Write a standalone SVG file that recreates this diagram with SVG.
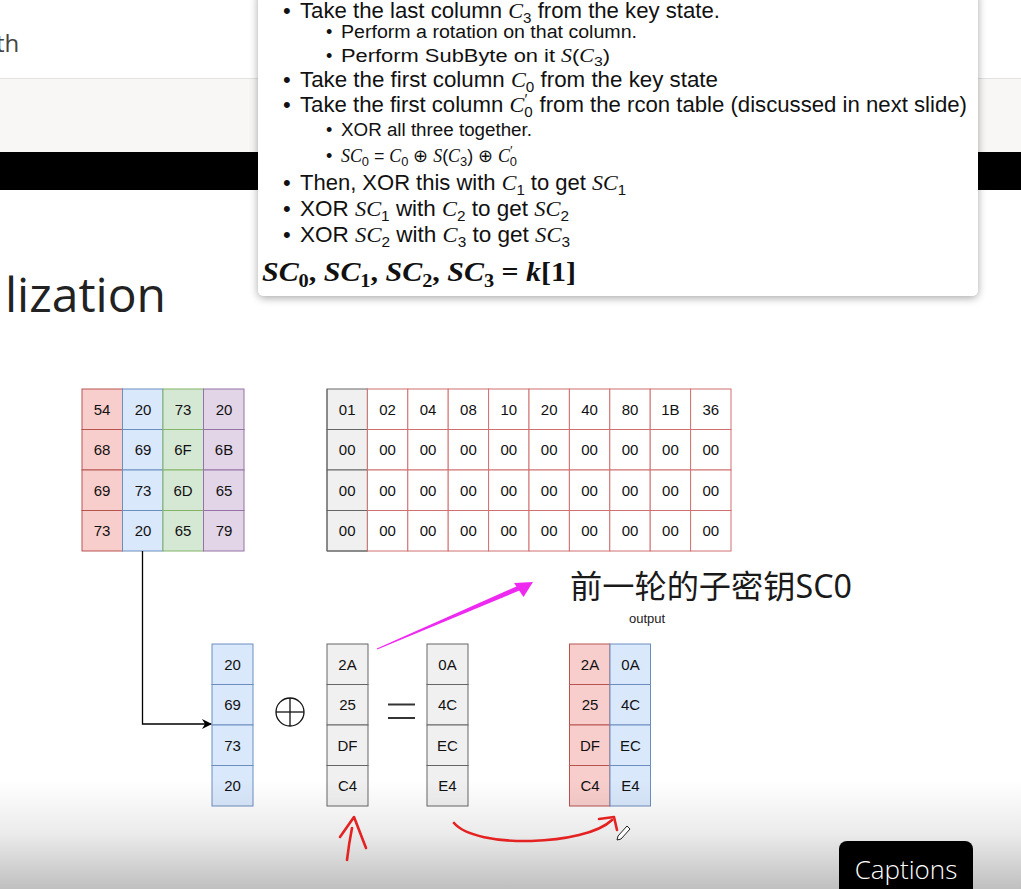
<svg xmlns="http://www.w3.org/2000/svg" width="1021" height="889" viewBox="0 0 1021 889">
<defs>
<style>
.cell{font-family:"Liberation Sans",Arial,sans-serif;font-size:15px;fill:#111;text-anchor:middle}
.r{fill:#f8cecc;stroke:#b85450;stroke-width:1}
.b{fill:#dae8fc;stroke:#6c8ebf;stroke-width:1}
.g{fill:#d5e8d4;stroke:#82b366;stroke-width:1}
.p{fill:#e1d5e7;stroke:#9673a6;stroke-width:1}
.gr{fill:#f0f0f0;stroke:#666;stroke-width:1}
.w{fill:#fff;stroke:#d07070;stroke-width:1}
.t{font-family:"Liberation Sans",Arial,sans-serif;fill:#111}
.m{font-family:"Liberation Serif","Times New Roman",serif;font-style:italic}
.red{fill:none;stroke:#e42222;stroke-width:2.6;stroke-linecap:round;stroke-linejoin:round}
</style>
<filter id="sh" x="-5%" y="-10%" width="110%" height="125%">
<feGaussianBlur in="SourceAlpha" stdDeviation="4"/>
<feOffset dx="0" dy="2"/>
<feComponentTransfer><feFuncA type="linear" slope="0.35"/></feComponentTransfer>
<feMerge><feMergeNode/><feMergeNode in="SourceGraphic"/></feMerge>
</filter>
<marker id="arr" markerWidth="10" markerHeight="10" refX="9" refY="5" orient="auto" markerUnits="userSpaceOnUse">
<path d="M0,0 L10,5 L0,10 L3,5 Z" fill="#000"/>
</marker>
<linearGradient id="fade" x1="0" y1="0" x2="0" y2="1">
<stop offset="0" stop-color="#000" stop-opacity="0"/>
<stop offset="0.5" stop-color="#000" stop-opacity="0.08"/>
<stop offset="1" stop-color="#000" stop-opacity="0.25"/>
</linearGradient>
</defs>

<!-- page background -->
<rect x="0" y="0" width="1021" height="889" fill="#fff"/>
<rect x="0" y="79" width="1021" height="73" fill="#f8f7f6"/>
<line x1="0" y1="78.5" x2="1021" y2="78.5" stroke="#e2e2e2"/>
<rect x="0" y="152" width="1021" height="38" fill="#000"/>
<text x="-4" y="52" style="font-family:'Open Sans','Noto Sans',sans-serif;font-size:24px;fill:#444">th</text>
<text x="5" y="312" style="font-family:'Open Sans','Noto Sans',sans-serif;font-size:48px;fill:#222">lization</text>

<!-- popup text box -->
<g id="popup">
<rect x="258" y="-10" width="720" height="306" rx="6" fill="#fff" filter="url(#sh)"/>
<g class="t" font-size="22">
<text x="283" y="18">•</text>
<text x="300" y="18" textLength="420" lengthAdjust="spacingAndGlyphs">Take the last column <tspan class="m">C</tspan><tspan font-size="15" dy="5">3</tspan><tspan dy="-5"> from the key state.</tspan></text>
<text x="283" y="87">•</text>
<text x="300" y="87" textLength="418" lengthAdjust="spacingAndGlyphs">Take the first column <tspan class="m">C</tspan><tspan font-size="15" dy="5">0</tspan><tspan dy="-5"> from the key state</tspan></text>
<text x="283" y="112">•</text>
<text x="300" y="112" textLength="667" lengthAdjust="spacingAndGlyphs">Take the first column <tspan class="m">C</tspan><tspan font-size="15" dy="5">0</tspan><tspan font-size="15" dx="-8" dy="-13">′</tspan><tspan dx="6" dy="8"> from the rcon table (discussed in next slide)</tspan></text>
<text x="283" y="190">•</text>
<text x="300" y="190" textLength="326" lengthAdjust="spacingAndGlyphs">Then, XOR this with <tspan class="m">C</tspan><tspan font-size="15" dy="5">1</tspan><tspan dy="-5"> to get </tspan><tspan class="m">SC</tspan><tspan font-size="15" dy="5">1</tspan></text>
<text x="283" y="216">•</text>
<text x="300" y="216" textLength="269" lengthAdjust="spacingAndGlyphs">XOR <tspan class="m">SC</tspan><tspan font-size="15" dy="5">1</tspan><tspan dy="-5"> with </tspan><tspan class="m">C</tspan><tspan font-size="15" dy="5">2</tspan><tspan dy="-5"> to get </tspan><tspan class="m">SC</tspan><tspan font-size="15" dy="5">2</tspan></text>
<text x="283" y="242">•</text>
<text x="300" y="242" textLength="270" lengthAdjust="spacingAndGlyphs">XOR <tspan class="m">SC</tspan><tspan font-size="15" dy="5">2</tspan><tspan dy="-5"> with </tspan><tspan class="m">C</tspan><tspan font-size="15" dy="5">3</tspan><tspan dy="-5"> to get </tspan><tspan class="m">SC</tspan><tspan font-size="15" dy="5">3</tspan></text>
</g>
<g class="t" font-size="18">
<text x="326" y="38">•</text>
<text x="341" y="38" textLength="296" lengthAdjust="spacingAndGlyphs">Perform a rotation on that column.</text>
<text x="326" y="62">•</text>
<text x="341" y="62" textLength="269" lengthAdjust="spacingAndGlyphs">Perform SubByte on it <tspan class="m">S</tspan>(<tspan class="m">C</tspan><tspan font-size="13" dy="4">3</tspan><tspan dy="-4">)</tspan></text>
<text x="326" y="136">•</text>
<text x="341" y="136" textLength="191" lengthAdjust="spacingAndGlyphs">XOR all three together.</text>
<text x="326" y="162">•</text>
<text x="341" y="162" textLength="176" lengthAdjust="spacingAndGlyphs"><tspan class="m">SC</tspan><tspan font-size="13" dy="4">0</tspan><tspan dy="-4"> = </tspan><tspan class="m">C</tspan><tspan font-size="13" dy="4">0</tspan><tspan dy="-4"> ⊕ </tspan><tspan class="m">S</tspan>(<tspan class="m">C</tspan><tspan font-size="13" dy="4">3</tspan><tspan dy="-4">) ⊕ </tspan><tspan class="m">C</tspan><tspan font-size="13" dy="4">0</tspan><tspan font-size="13" dx="-7" dy="-11">′</tspan></text>
</g>
<text x="262" y="281" textLength="314" lengthAdjust="spacingAndGlyphs" style="font-family:'Liberation Serif','Times New Roman',serif;font-size:28px;font-weight:bold;fill:#111"><tspan font-style="italic">SC</tspan><tspan font-size="19" dy="6">0</tspan><tspan dy="-6">, </tspan><tspan font-style="italic">SC</tspan><tspan font-size="19" dy="6">1</tspan><tspan dy="-6">, </tspan><tspan font-style="italic">SC</tspan><tspan font-size="19" dy="6">2</tspan><tspan dy="-6">, </tspan><tspan font-style="italic">SC</tspan><tspan font-size="19" dy="6">3</tspan><tspan dy="-6"> = </tspan><tspan font-style="italic">k</tspan>[1]</text>
</g>

<!-- key state grid -->
<g id="key-state">
<rect class="r" x="82" y="389" width="40.5" height="40.5"/><rect class="r" x="82" y="429.5" width="40.5" height="40.5"/><rect class="r" x="82" y="470" width="40.5" height="40.5"/><rect class="r" x="82" y="510.5" width="40.5" height="40.5"/>
<rect class="b" x="122.5" y="389" width="40.5" height="40.5"/><rect class="b" x="122.5" y="429.5" width="40.5" height="40.5"/><rect class="b" x="122.5" y="470" width="40.5" height="40.5"/><rect class="b" x="122.5" y="510.5" width="40.5" height="40.5"/>
<rect class="g" x="163" y="389" width="40.5" height="40.5"/><rect class="g" x="163" y="429.5" width="40.5" height="40.5"/><rect class="g" x="163" y="470" width="40.5" height="40.5"/><rect class="g" x="163" y="510.5" width="40.5" height="40.5"/>
<rect class="p" x="203.5" y="389" width="40.5" height="40.5"/><rect class="p" x="203.5" y="429.5" width="40.5" height="40.5"/><rect class="p" x="203.5" y="470" width="40.5" height="40.5"/><rect class="p" x="203.5" y="510.5" width="40.5" height="40.5"/>
<text class="cell" x="102" y="415">54</text><text class="cell" x="143" y="415">20</text><text class="cell" x="183" y="415">73</text><text class="cell" x="224" y="415">20</text>
<text class="cell" x="102" y="455">68</text><text class="cell" x="143" y="455">69</text><text class="cell" x="183" y="455">6F</text><text class="cell" x="224" y="455">6B</text>
<text class="cell" x="102" y="496">69</text><text class="cell" x="143" y="496">73</text><text class="cell" x="183" y="496">6D</text><text class="cell" x="224" y="496">65</text>
<text class="cell" x="102" y="536">73</text><text class="cell" x="143" y="536">20</text><text class="cell" x="183" y="536">65</text><text class="cell" x="224" y="536">79</text>
</g>

<!-- rcon table -->
<g id="rcon">
<rect class="gr" x="327" y="389" width="40.4" height="40.5"/><rect class="gr" x="327" y="429.5" width="40.4" height="40.5"/><rect class="gr" x="327" y="470" width="40.4" height="40.5"/><rect class="gr" x="327" y="510.5" width="40.4" height="40.5"/>
<g>
<rect class="w" x="367.4" y="389" width="40.4" height="40.5"/><rect class="w" x="407.8" y="389" width="40.4" height="40.5"/><rect class="w" x="448.2" y="389" width="40.4" height="40.5"/><rect class="w" x="488.6" y="389" width="40.4" height="40.5"/><rect class="w" x="529" y="389" width="40.4" height="40.5"/><rect class="w" x="569.4" y="389" width="40.4" height="40.5"/><rect class="w" x="609.8" y="389" width="40.4" height="40.5"/><rect class="w" x="650.2" y="389" width="40.4" height="40.5"/><rect class="w" x="690.6" y="389" width="40.4" height="40.5"/>
<rect class="w" x="367.4" y="429.5" width="40.4" height="40.5"/><rect class="w" x="407.8" y="429.5" width="40.4" height="40.5"/><rect class="w" x="448.2" y="429.5" width="40.4" height="40.5"/><rect class="w" x="488.6" y="429.5" width="40.4" height="40.5"/><rect class="w" x="529" y="429.5" width="40.4" height="40.5"/><rect class="w" x="569.4" y="429.5" width="40.4" height="40.5"/><rect class="w" x="609.8" y="429.5" width="40.4" height="40.5"/><rect class="w" x="650.2" y="429.5" width="40.4" height="40.5"/><rect class="w" x="690.6" y="429.5" width="40.4" height="40.5"/>
<rect class="w" x="367.4" y="470" width="40.4" height="40.5"/><rect class="w" x="407.8" y="470" width="40.4" height="40.5"/><rect class="w" x="448.2" y="470" width="40.4" height="40.5"/><rect class="w" x="488.6" y="470" width="40.4" height="40.5"/><rect class="w" x="529" y="470" width="40.4" height="40.5"/><rect class="w" x="569.4" y="470" width="40.4" height="40.5"/><rect class="w" x="609.8" y="470" width="40.4" height="40.5"/><rect class="w" x="650.2" y="470" width="40.4" height="40.5"/><rect class="w" x="690.6" y="470" width="40.4" height="40.5"/>
<rect class="w" x="367.4" y="510.5" width="40.4" height="40.5"/><rect class="w" x="407.8" y="510.5" width="40.4" height="40.5"/><rect class="w" x="448.2" y="510.5" width="40.4" height="40.5"/><rect class="w" x="488.6" y="510.5" width="40.4" height="40.5"/><rect class="w" x="529" y="510.5" width="40.4" height="40.5"/><rect class="w" x="569.4" y="510.5" width="40.4" height="40.5"/><rect class="w" x="609.8" y="510.5" width="40.4" height="40.5"/><rect class="w" x="650.2" y="510.5" width="40.4" height="40.5"/><rect class="w" x="690.6" y="510.5" width="40.4" height="40.5"/>
</g>
<line x1="327" y1="389" x2="327" y2="551" stroke="#666"/>
<line x1="327" y1="551" x2="367.4" y2="551" stroke="#666"/>
<text class="cell" x="347.2" y="415">01</text><text class="cell" x="387.6" y="415">02</text><text class="cell" x="428" y="415">04</text><text class="cell" x="468.4" y="415">08</text><text class="cell" x="508.8" y="415">10</text><text class="cell" x="549.2" y="415">20</text><text class="cell" x="589.6" y="415">40</text><text class="cell" x="630" y="415">80</text><text class="cell" x="670.4" y="415">1B</text><text class="cell" x="710.8" y="415">36</text>
<text class="cell" x="347.2" y="455">00</text><text class="cell" x="387.6" y="455">00</text><text class="cell" x="428" y="455">00</text><text class="cell" x="468.4" y="455">00</text><text class="cell" x="508.8" y="455">00</text><text class="cell" x="549.2" y="455">00</text><text class="cell" x="589.6" y="455">00</text><text class="cell" x="630" y="455">00</text><text class="cell" x="670.4" y="455">00</text><text class="cell" x="710.8" y="455">00</text>
<text class="cell" x="347.2" y="496">00</text><text class="cell" x="387.6" y="496">00</text><text class="cell" x="428" y="496">00</text><text class="cell" x="468.4" y="496">00</text><text class="cell" x="508.8" y="496">00</text><text class="cell" x="549.2" y="496">00</text><text class="cell" x="589.6" y="496">00</text><text class="cell" x="630" y="496">00</text><text class="cell" x="670.4" y="496">00</text><text class="cell" x="710.8" y="496">00</text>
<text class="cell" x="347.2" y="536">00</text><text class="cell" x="387.6" y="536">00</text><text class="cell" x="428" y="536">00</text><text class="cell" x="468.4" y="536">00</text><text class="cell" x="508.8" y="536">00</text><text class="cell" x="549.2" y="536">00</text><text class="cell" x="589.6" y="536">00</text><text class="cell" x="630" y="536">00</text><text class="cell" x="670.4" y="536">00</text><text class="cell" x="710.8" y="536">00</text>
</g>

<!-- column C1 -->
<g id="col-c1">
<rect class="b" x="212" y="644" width="41" height="40.5"/><rect class="b" x="212" y="684.5" width="41" height="40.5"/><rect class="b" x="212" y="725" width="41" height="40.5"/><rect class="b" x="212" y="765.5" width="41" height="40.5"/>
<text class="cell" x="232.5" y="670">20</text><text class="cell" x="232.5" y="710">69</text><text class="cell" x="232.5" y="751">73</text><text class="cell" x="232.5" y="791">20</text>
</g>

<!-- XOR symbol -->
<g id="xor" fill="none" stroke="#111" stroke-width="1.3">
<circle cx="290" cy="712" r="14"/>
<line x1="276" y1="712" x2="304" y2="712"/>
<line x1="290" y1="698" x2="290" y2="726"/>
</g>

<!-- SC0 previous column -->
<g id="col-sc0">
<rect class="gr" x="327" y="644" width="41" height="40.5"/><rect class="gr" x="327" y="684.5" width="41" height="40.5"/><rect class="gr" x="327" y="725" width="41" height="40.5"/><rect class="gr" x="327" y="765.5" width="41" height="40.5"/>
<text class="cell" x="347.5" y="670">2A</text><text class="cell" x="347.5" y="710">25</text><text class="cell" x="347.5" y="751">DF</text><text class="cell" x="347.5" y="791">C4</text>
</g>

<!-- equals -->
<g id="equals" stroke="#333" stroke-width="2">
<line x1="388" y1="704.5" x2="415" y2="704.5"/>
<line x1="388" y1="718" x2="415" y2="718"/>
</g>

<!-- SC1 result -->
<g id="col-sc1">
<rect class="gr" x="427" y="644" width="41" height="40.5"/><rect class="gr" x="427" y="684.5" width="41" height="40.5"/><rect class="gr" x="427" y="725" width="41" height="40.5"/><rect class="gr" x="427" y="765.5" width="41" height="40.5"/>
<text class="cell" x="447.5" y="670">0A</text><text class="cell" x="447.5" y="710">4C</text><text class="cell" x="447.5" y="751">EC</text><text class="cell" x="447.5" y="791">E4</text>
</g>

<!-- output -->
<g id="output">
<text x="647" y="623" style="font-family:'Liberation Sans',Arial,sans-serif;font-size:13px;fill:#222;text-anchor:middle">output</text>
<rect class="r" x="569.5" y="644" width="40.5" height="40.5"/><rect class="r" x="569.5" y="684.5" width="40.5" height="40.5"/><rect class="r" x="569.5" y="725" width="40.5" height="40.5"/><rect class="r" x="569.5" y="765.5" width="40.5" height="40.5"/>
<rect class="b" x="610" y="644" width="40.5" height="40.5"/><rect class="b" x="610" y="684.5" width="40.5" height="40.5"/><rect class="b" x="610" y="725" width="40.5" height="40.5"/><rect class="b" x="610" y="765.5" width="40.5" height="40.5"/>
<text class="cell" x="590" y="670">2A</text><text class="cell" x="590" y="710">25</text><text class="cell" x="590" y="751">DF</text><text class="cell" x="590" y="791">C4</text>
<text class="cell" x="630.5" y="670">0A</text><text class="cell" x="630.5" y="710">4C</text><text class="cell" x="630.5" y="751">EC</text><text class="cell" x="630.5" y="791">E4</text>
</g>

<!-- annotation label -->
<g id="label-sc0">
<text x="570" y="598" style="font-family:'Noto Sans','Noto Sans CJK SC',sans-serif;font-size:32px;fill:#1a1a1a" textLength="282" lengthAdjust="spacingAndGlyphs">前一轮的子密钥SC0</text>
</g>

<!-- bottom fade -->
<rect x="0" y="780" width="1021" height="109" fill="url(#fade)"/>

<!-- connectors -->
<g id="connectors">
<path d="M142.5,551 V724 H211" fill="none" stroke="#000" stroke-width="1.3" marker-end="url(#arr)"/>
<polygon points="376.8,648.5 518,585.7 520,590.3 377.2,649.5" fill="#ee2af0"/>
<polygon points="533,582 514,583 523.5,597" fill="#ee2af0"/>
<path class="red" d="M347,860 Q349,843 352,828"/>
<path class="red" d="M340,837 L354,817 L366,848"/>
<path class="red" d="M454,823 C476,849 585,846 612,820"/>
<path class="red" d="M599,819 L614,817 L617,830"/>
</g>

<!-- pencil cursor -->
<g id="cursor" fill="#fff" stroke="#222" stroke-width="1">
<path d="M618,836 L627,826 L630,829 L621,839 L617,840 Z"/>
</g>

<!-- captions -->
<g id="captions">
<rect x="839" y="841" width="134" height="60" rx="8" fill="#000"/>
<text x="906" y="879" style="font-family:'Open Sans','Noto Sans',sans-serif;font-size:26px;font-weight:300;fill:#fff;text-anchor:middle">Captions</text>
</g>
</svg>
